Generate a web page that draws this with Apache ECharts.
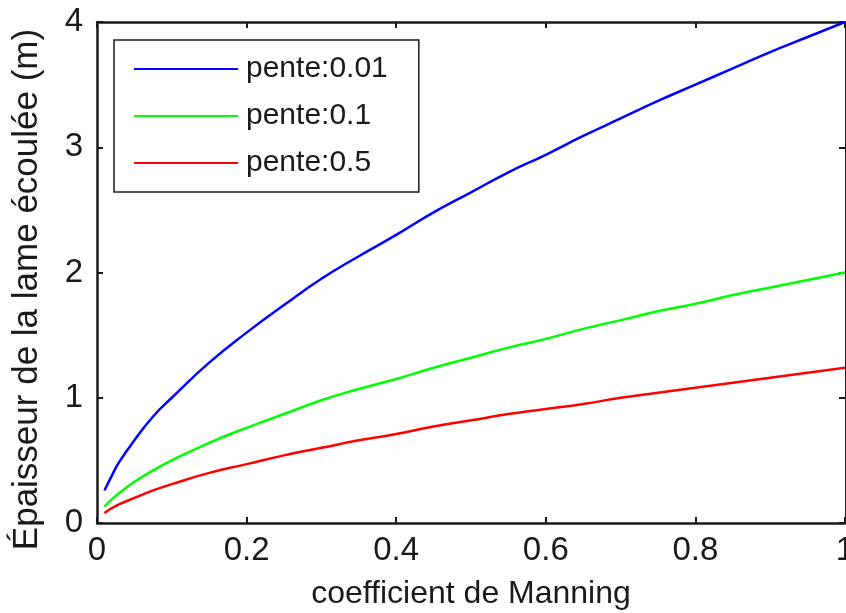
<!DOCTYPE html>
<html>
<head>
<meta charset="utf-8">
<script src="https://cdn.jsdelivr.net/npm/echarts@6/dist/echarts.min.js"></script>
<style>
  html, body { margin: 0; padding: 0; background: #fff; }
  #chart { width: 846px; height: 613px; }
</style>
</head>
<body>
<div id="chart"></div>
<script>
// coefficient de Manning (axe x)
const manning = [0.01, 0.02, 0.03, 0.05, 0.075, 0.1, 0.15, 0.2, 0.25, 0.3, 0.35, 0.4, 0.45,
  0.5, 0.55, 0.6, 0.65, 0.7, 0.75, 0.8, 0.85, 0.9, 0.95, 1.0];
// épaisseur de la lame (m)
const pente001 = [0.26, 0.38, 0.49, 0.66, 0.85, 1.00, 1.28, 1.52, 1.74, 1.95, 2.13, 2.30, 2.48,
  2.64, 2.80, 2.94, 3.09, 3.23, 3.37, 3.50, 3.63, 3.76, 3.88, 4.00];
const pente01 = [0.13, 0.19, 0.24, 0.33, 0.42, 0.50, 0.64, 0.76, 0.87, 0.98, 1.07, 1.15, 1.24,
  1.32, 1.40, 1.47, 1.55, 1.62, 1.69, 1.75, 1.82, 1.88, 1.94, 2.00];
const pente05 = [0.08, 0.12, 0.15, 0.20, 0.26, 0.31, 0.40, 0.47, 0.54, 0.60, 0.66, 0.71, 0.77,
  0.82, 0.87, 0.91, 0.95, 1.00, 1.04, 1.08, 1.12, 1.16, 1.20, 1.24];
const seriesNames = ['pente:0.01', 'pente:0.1', 'pente:0.5'];
const seriesColors = ['#0000ff', '#00ff00', '#ff0000'];

const FONT = '"Liberation Sans", Arial, sans-serif';
const INK = '#1a1a1a';

const chart = echarts.init(document.getElementById('chart'));

const toPairs = (ys) => manning.map((x, i) => [x, ys[i]]);

const axisCommon = {
  type: 'value',
  axisLine: { show: true, onZero: false, lineStyle: { color: INK, width: 2.5 } },
  axisTick: { show: true, inside: true, length: 6, lineStyle: { color: INK, width: 2 } },
  splitLine: { show: false },
};

const option = {
  animation: false,
  backgroundColor: '#fff',
  grid: { left: 97, right: 1, top: 22, bottom: 90, containLabel: false, outerBoundsMode: 'none' },
  legend: {
    orient: 'vertical',
    left: 114,
    top: 40,
    padding: [14, 31, 14, 20],
    itemGap: 17,
    itemWidth: 104,
    itemHeight: 2,
    icon: 'rect',
    borderColor: INK,
    borderWidth: 1.5,
    borderRadius: 0,
    backgroundColor: '#fff',
    textStyle: { fontFamily: FONT, fontSize: 30, color: INK, lineHeight: 30, padding: [0, 0, 0, 3] },
    data: seriesNames,
  },
  xAxis: [
    Object.assign({}, axisCommon, {
      min: 0, max: 1, interval: 0.2,
      position: 'bottom',
      name: 'coefficient de Manning',
      nameLocation: 'middle',
      nameGap: 55,
      nameTextStyle: { fontFamily: FONT, fontSize: 32, color: INK },
      axisLabel: { fontFamily: FONT, fontSize: 33, color: INK, margin: 11 },
    }),
    Object.assign({}, axisCommon, {
      min: 0, max: 1, interval: 0.2,
      position: 'top',
      axisLabel: { show: false },
    }),
  ],
  yAxis: [
    Object.assign({}, axisCommon, {
      min: 0, max: 4, interval: 1,
      position: 'left',
      name: 'Épaisseur de la lame écoulée (m)',
      nameLocation: 'middle',
      nameGap: 52,
      nameRotate: 90,
      nameTextStyle: { fontFamily: FONT, fontSize: 35, color: INK, padding: [0, 34, 0, 0] },
      axisLabel: { fontFamily: FONT, fontSize: 33, color: INK, margin: 14 },
    }),
    Object.assign({}, axisCommon, {
      min: 0, max: 4, interval: 1,
      position: 'right',
      axisLine: { show: true, onZero: false, lineStyle: { color: INK, width: 1 } },
      axisLabel: { show: false },
    }),
  ],
  series: [pente001, pente01, pente05].map((ys, i) => ({
    name: seriesNames[i],
    type: 'line',
    xAxisIndex: 0,
    yAxisIndex: 0,
    data: toPairs(ys),
    smooth: true,
    showSymbol: false,
    symbol: 'none',
    color: seriesColors[i],
    lineStyle: { color: seriesColors[i], width: 2.5 },
  })),
};

chart.setOption(option);
</script>
</body>
</html>
